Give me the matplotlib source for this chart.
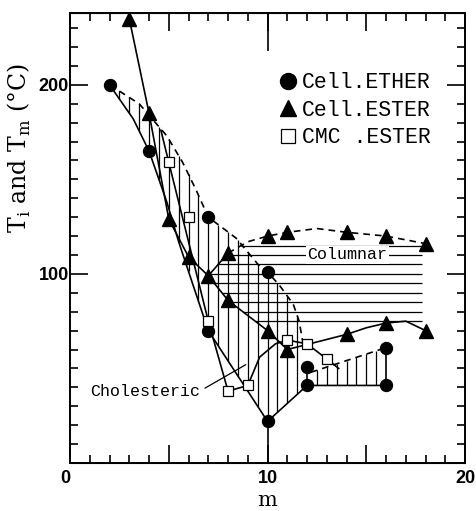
import numpy as np
import matplotlib.pyplot as plt
from matplotlib.font_manager import FontProperties
from matplotlib.lines import Line2D

# --- data ---
ether_m = [2, 4, 7, 7, 10, 10, 12, 12, 16, 16]
ether_t = [200, 165, 130, 70, 101, 22, 51, 41, 61, 41]
ester_m = [3, 4, 5, 6, 7, 8, 8, 10, 10, 11, 11, 14, 14, 16, 16, 18, 18]
ester_t = [235, 185, 129, 109, 99, 111, 86, 120, 70, 122, 60, 122, 68, 120, 74, 116, 70]
cmc_m = [5, 6, 7, 8, 9, 11, 12, 13]
cmc_t = [159, 130, 75, 38, 41, 65, 63, 55]

# points
ether_ti_m = [2, 3.5, 4.9, 5.7, 6.4, 7, 8.4, 9.6, 10, 10.6, 11.3, 11.6, 11.8]
ether_ti_t = [200, 190, 173, 159, 144, 130, 119, 104, 101, 94, 84, 75, 63]
ether_tm_m = [2, 3.2, 4, 4.9, 5.5, 6.2, 7, 10, 12, 16]
ether_tm_t = [200, 182, 165, 138, 117, 95, 70, 22, 41, 41]
ester_lo_m = [3, 4, 5, 6, 7, 8, 10, 11, 12.5, 14, 15, 16, 17, 18]
ester_lo_t = [235, 185, 129, 109, 99, 86, 70, 60, 64, 68, 71.5, 74, 75, 70]
ester_up_m = [7, 8]
ester_up_t = [99, 111]
ester_ti_m = [8, 9, 10, 11, 12.5, 14, 16, 18]
ester_ti_t = [111, 117, 120, 122, 124, 122, 120, 116]
cmc_line_m = [4.6, 5, 7, 8, 9, 9.6, 10.4, 11, 12, 13, 13.6]
cmc_line_t = [176, 159, 75, 38, 41, 56, 63, 65, 63, 55, 50]
small_top_m = [12.2, 16]
small_top_t = [48, 61]

fig = plt.figure(figsize=(4.77, 5.11), dpi=100)
ax = fig.add_axes([0.1468, 0.094, 0.8282, 0.8806])
ax.set_xlim(0, 20)
ax.set_ylim(0, 238)

lw = 1.2
hw = 0.9

# cholesteric hatching (vertical)
vm = np.arange(2.5, 11.6, 0.5)
ax.vlines(vm, np.interp(vm, ether_tm_m, ether_tm_t), np.interp(vm, ether_ti_m, ether_ti_t),
          color='k', lw=hw)
sm = np.arange(12.5, 15.6, 0.5)
ax.vlines(sm, 41, np.interp(sm, small_top_m, small_top_t), color='k', lw=hw)
ax.vlines([ether_m[6], ether_m[8]], [ether_t[7], ether_t[9]], [ether_t[6], ether_t[8]],
          color='k', lw=lw)

# columnar hatching (horizontal)
ht = np.arange(75, 116, 5)
left = np.where(ht <= 99, np.interp(ht, [70, 86, 99], [10, 8, 7]),
                np.interp(ht, [99, 111, 117, 120], [7, 8, 9, 10]))
ax.hlines(ht, left, 17.8, color='k', lw=hw)

# curves
ax.plot(ether_ti_m, ether_ti_t, 'k--', lw=lw, dashes=(4, 3))
ax.plot(ether_tm_m, ether_tm_t, 'k-', lw=lw)
ax.plot(ester_lo_m, ester_lo_t, 'k-', lw=lw)
ax.plot(ester_up_m, ester_up_t, 'k-', lw=lw)
ax.plot(ester_ti_m, ester_ti_t, 'k--', lw=lw, dashes=(4, 3))
ax.plot(cmc_line_m, cmc_line_t, 'k-', lw=lw)
ax.plot(small_top_m, small_top_t, 'k--', lw=lw, dashes=(4, 3))

# markers
ax.plot(ether_m, ether_t, 'o', color='k', ms=8.6, ls='none', zorder=5)
ax.plot(ester_m, ester_t, '^', color='k', ms=10, ls='none', zorder=5)
ax.plot(cmc_m, cmc_t, 's', mfc='white', mec='k', mew=0.9, ms=7, ls='none', zorder=6)

mono = 'Liberation Mono'
ax.text(14.05, 110, 'Columnar', family=mono, fontsize=12, ha='center', va='center',
        bbox=dict(fc='white', ec='none', pad=1), zorder=4)
ax.annotate('Cholesteric', xy=(8.9, 52), xytext=(1.0, 38), family=mono, fontsize=12,
            ha='left', va='center',
            arrowprops=dict(arrowstyle='-', lw=0.9, color='k', shrinkA=2, shrinkB=0,
                            relpos=(1, 0.5)))

handles = [Line2D([], [], marker='o', color='k', ls='none', ms=11.5),
           Line2D([], [], marker='^', color='k', ls='none', ms=12),
           Line2D([], [], marker='s', mfc='white', mec='k', mew=0.9, ls='none', ms=9.5)]
ax.legend(handles, ['Cell.ETHER', 'Cell.ESTER', 'CMC .ESTER'], loc='upper left',
          bbox_to_anchor=(0.53, 0.868), borderaxespad=0, borderpad=0, frameon=False,
          handlelength=0.8, handletextpad=0.25, labelspacing=0.3,
          prop=FontProperties(family=mono, size=15.5))

# axes and ticks
for s in ax.spines.values():
    s.set_linewidth(1.4)
ax.set_xticks([0, 5, 10, 15, 20], labels=['0', '', '10', '', '20'])
ax.set_xticks(np.arange(0, 21, 1), minor=True)
ax.set_yticks([100, 200])
ax.set_yticks(np.arange(0, 238, 10), minor=True)
ax.tick_params(which='both', direction='in', top=True, right=True, width=1.2)
ax.tick_params(which='major', length=13)
ax.tick_params(which='minor', length=5.5)
ax.tick_params(axis='y', pad=1)
ax.tick_params(axis='x', pad=5)
for t in ax.get_xticklabels() + ax.get_yticklabels():
    t.set_fontfamily('Liberation Sans')
    t.set_fontweight('bold')
    t.set_fontsize(13)
ax.get_xticklabels()[0].set_ha('right')

for side in ['top', 'bottom']:
    sec = ax.secondary_xaxis(side)
    sec.set_xticks([10], labels=[''])
    sec.tick_params(direction='in', length=27, width=1.2)

ax.set_xlabel('m', family='DejaVu Serif', fontsize=15, labelpad=3)
ax.set_ylabel('T$_\\mathregular{i}$ and T$_\\mathregular{m}$ (°C)', family='DejaVu Serif',
              fontsize=17)
ax.yaxis.set_label_coords(-0.094, 0.70)

fig.savefig('out.png', dpi=100)
